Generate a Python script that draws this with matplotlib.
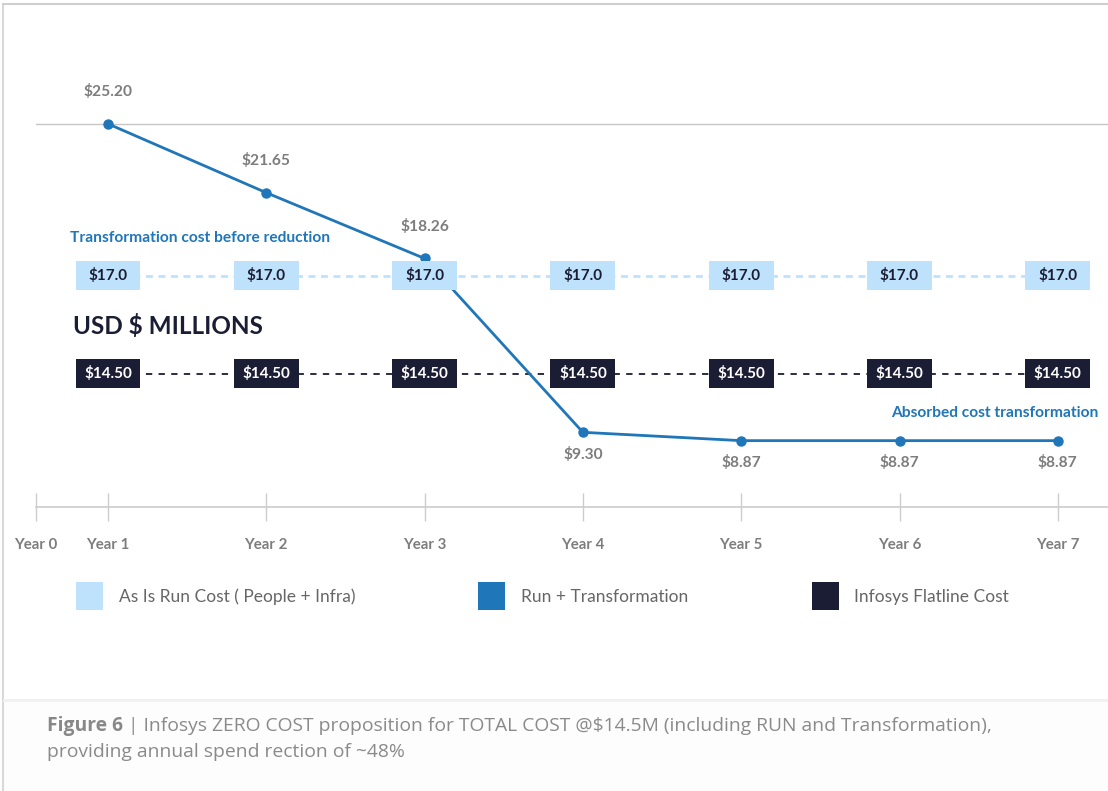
import matplotlib.pyplot as plt
from matplotlib.patches import Rectangle, Patch
from matplotlib.lines import Line2D
from matplotlib.text import Annotation

plt.rcParams['font.family'] = ['Lato', 'DejaVu Sans']

# data
years = [1, 2, 3, 4, 5, 6, 7]
year_labels = ['Year 0', 'Year 1', 'Year 2', 'Year 3', 'Year 4', 'Year 5', 'Year 6', 'Year 7']
run_transform = [25.20, 21.65, 18.26, 9.30, 8.87, 8.87, 8.87]
as_is_cost = [17.0] * 7
flatline_cost = [14.50] * 7
legend_labels = ['As Is Run Cost ( People + Infra)', 'Run + Transformation', 'Infosys Flatline Cost']

LIGHT = '#bfe2fc'
BLUE = '#1f76b9'
NAVY = '#1a1d33'
GREY = '#7d7d7d'

W, H = 1108, 791
fig = plt.figure(figsize=(W / 100, H / 100), dpi=100)
fig.patch.set_facecolor('white')

# frame and caption strip
fig.add_artist(Line2D([3 / W, 3 / W], [0, 1 - 4 / H], color='#d9d9d9', lw=1.5))
fig.add_artist(Line2D([3 / W, 1], [1 - 4 / H, 1 - 4 / H], color='#cfcfcf', lw=1.5))
fig.add_artist(Rectangle((4 / W, 0), 1, 1 - 700 / H, facecolor='#fdfdfd', edgecolor='none'))
fig.add_artist(Line2D([4 / W, 1], [1 - 700 / H, 1 - 700 / H], color='#f0f0f0', lw=2))

# axes placed so the axis line sits where the reference has it
left_px, right_px, top_px, bot_px = 36, 1108, 60, 507
ax = fig.add_axes([left_px / W, 1 - bot_px / H, (right_px - left_px) / W, (bot_px - top_px) / H])
ax2 = ax.twinx()
ax2.set_zorder(ax.get_zorder() - 1)
ax.patch.set_visible(False)

px_per_year = 158.3
x0 = 1 - (108 - left_px) / px_per_year
x1 = 1 + (right_px - 108) / px_per_year
ax.set_xlim(x0, x1)
ax.set_ylim(5.45, 28.49)
b_lo, b_hi = 11.107, 22.51
ax2.set_ylim(b_lo, b_hi)

for a in (ax, ax2):
    for s in ['top', 'left', 'right']:
        a.spines[s].set_visible(False)
    a.set_yticks([])
ax.spines['bottom'].set_color('#cccccc')
ax.spines['bottom'].set_linewidth(1.2)
ax2.spines['bottom'].set_visible(False)

ax.set_xticks([x0] + years)
ax.set_xticklabels(year_labels)
ax.tick_params(axis='x', direction='inout', length=20, width=1, color='#cccccc',
               labelsize=10.8, labelcolor=GREY, pad=12)
for t in ax.get_xticklabels():
    t.set_fontweight('bold')

# top reference line at the starting cost
ax.axhline(max(run_transform), color='#c6c6c6', lw=1, zorder=1)

# reference bands on the twin axis
bw, bh = 0.41, 0.74
ax2.plot(years, as_is_cost, color=LIGHT, lw=2, ls=(0, (2.5, 2)), zorder=1)
ax2.plot(years, flatline_cost, color=NAVY, lw=1.3, ls=(0, (3.5, 3.5)), zorder=1)
for x, v in zip(years, flatline_cost):
    ax2.add_patch(Rectangle((x - bw / 2, v - bh / 2), bw, bh, facecolor=NAVY, zorder=2))
    ax2.text(x, v, f'${v:.2f}', color='white', fontsize=11, fontweight='bold',
             ha='center', va='center', zorder=3)

# main line
ax.plot(years, run_transform, color=BLUE, lw=2, marker='o', ms=6.5, zorder=4)
for i, (x, v) in enumerate(zip(years, run_transform)):
    dy = 23 if i < 3 else -16
    ax.annotate(f'${v:.2f}', (x, v), xytext=(0, dy), textcoords='offset points',
                ha='center', va='center', color=GREY, fontsize=11.2, fontweight='bold')

# light boxes sit above the line
span = b_hi - b_lo
for x, v in zip(years, as_is_cost):
    y = (v - b_lo) / span
    ax.add_patch(Rectangle((x - bw / 2, y - bh / span / 2), bw, bh / span,
                           transform=ax.get_xaxis_transform(), facecolor=LIGHT, zorder=5))
    ax.text(x, y, f'${v:.1f}', transform=ax.get_xaxis_transform(), color=NAVY,
            fontsize=11, fontweight='bold', ha='center', va='center', zorder=6)

fig.text(70 / W, 1 - 238 / H, 'Transformation cost before reduction', color=BLUE,
         fontsize=11.2, fontweight='bold', va='center')
fig.text(73 / W, 1 - 326 / H, 'USD $ MILLIONS', color=NAVY, fontsize=17.5,
         fontweight='bold', va='center')
fig.text(1098 / W, 1 - 413 / H, 'Absorbed cost transformation', color=BLUE,
         fontsize=11.2, fontweight='bold', va='center', ha='right')

handles = [Patch(facecolor=LIGHT), Patch(facecolor=BLUE), Patch(facecolor=NAVY)]
fig.legend(handles, legend_labels, loc='center left', bbox_to_anchor=(76 / W, 1 - 596 / H),
           ncol=3, frameon=False, fontsize=12.5, labelcolor='#666666',
           handlelength=1.555, handleheight=2.02, handletextpad=0.9, columnspacing=7.1,
           borderpad=0, borderaxespad=0)

# caption
cap_font = ['Open Sans', 'DejaVu Sans']
cap = fig.text(47 / W, 1 - 726 / H, 'Figure 6', color='#888888', fontsize=13.9,
               fontweight='bold', va='center', family=cap_font)
rest = Annotation(' | Infosys ZERO COST proposition for TOTAL COST @$14.5M '
                  '(including RUN and Transformation),', xy=(1, 0.5), xycoords=cap,
                  va='center', ha='left', color='#8a8a8a', fontsize=13.9, family=cap_font)
fig.add_artist(rest)
fig.text(47 / W, 1 - 752 / H, 'providing annual spend rection of ~48%', color='#8a8a8a',
         fontsize=13.9, va='center', family=cap_font)

fig.savefig('out.png', dpi=100)
